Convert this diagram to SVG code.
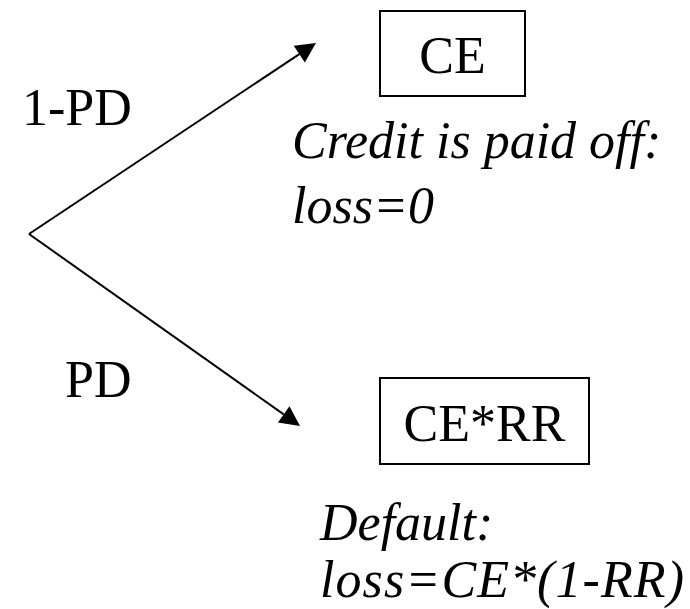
<svg xmlns="http://www.w3.org/2000/svg" width="690" height="609" viewBox="0 0 690 609">
  <style>
    .lbl { font-family: "Liberation Serif", "Times New Roman", serif; font-size: 52px; fill: #000; }
    .it { font-style: italic; }
    .box { fill: #fff; stroke: #000; stroke-width: 2; }
    .edge { fill: none; stroke: #000; stroke-width: 2; marker-end: url(#head); }
  </style>
  <defs>
    <marker id="head" markerUnits="userSpaceOnUse" markerWidth="20" markerHeight="20" refX="0" refY="10" orient="auto" overflow="visible">
      <path d="M0,0 L20,10 L0,20 Z" fill="#000"/>
    </marker>
  </defs>
  <rect width="690" height="609" fill="#fff"/>

  <!-- branches from the root -->
  <g id="connectors">
    <path class="edge" d="M29,234 L299.3,54.1"/>
    <path class="edge" d="M29,234 L283.7,414.4"/>
  </g>

  <!-- branch probabilities -->
  <g id="label-survive">
    <text class="lbl" x="22" y="125">1-PD</text>
  </g>
  <g id="label-default">
    <text class="lbl" x="65" y="397">PD</text>
  </g>

  <!-- outcome: no default -->
  <g id="node-ce">
    <rect class="box" x="380" y="11" width="145" height="85"/>
    <text class="lbl" x="452.5" y="73" text-anchor="middle">CE</text>
  </g>
  <g id="note-paid-off">
    <text class="lbl it" x="292" y="158">Credit is paid off:</text>
    <text class="lbl it" x="292" y="223">loss=0</text>
  </g>

  <!-- outcome: default -->
  <g id="node-cerr">
    <rect class="box" x="380" y="378" width="209" height="86"/>
    <text class="lbl" x="484.5" y="441" text-anchor="middle">CE*RR</text>
  </g>
  <g id="note-default">
    <text class="lbl it" x="320" y="540">Default:</text>
    <text class="lbl it" x="320" y="597" textLength="364" lengthAdjust="spacing">loss=CE*(1-RR)</text>
  </g>
</svg>
